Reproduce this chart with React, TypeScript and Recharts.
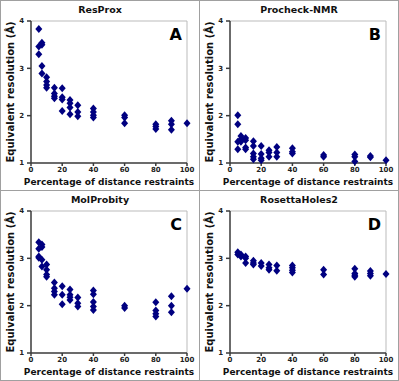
import React from 'react';
import { ScatterChart, Scatter, XAxis, YAxis, ReferenceLine, Customized } from 'recharts';

// [percentage of distance restraints, equivalent resolution]
const resproxPoints: [number, number][] = [
  [5, 3.83], [5, 3.46], [5, 3.3],
  [7, 3.54], [7, 3.5], [7, 3.05], [7, 2.89],
  [10, 2.81], [10, 2.72], [10, 2.65], [10, 2.59],
  [15, 2.59], [15, 2.47], [15, 2.41], [15, 2.37],
  [20, 2.58], [20, 2.39], [20, 2.34], [20, 2.1],
  [25, 2.33], [25, 2.26], [25, 2.17], [25, 2.03],
  [30, 2.22], [30, 2.08], [30, 1.99],
  [40, 2.15], [40, 2.08], [40, 2.01], [40, 1.96],
  [60, 2.01], [60, 1.96], [60, 1.84],
  [80, 1.82], [80, 1.77], [80, 1.72],
  [90, 1.89], [90, 1.82], [90, 1.7],
  [100, 1.84],
];

const procheckPoints: [number, number][] = [
  [5, 2.01], [5, 1.82], [5, 1.45], [5, 1.29],
  [7, 1.57], [7, 1.5], [7, 1.45],
  [10, 1.53], [10, 1.48], [10, 1.33], [10, 1.29],
  [15, 1.46], [15, 1.36], [15, 1.2], [15, 1.13], [15, 1.08],
  [20, 1.36], [20, 1.19], [20, 1.1], [20, 1.06],
  [25, 1.27], [25, 1.22], [25, 1.13],
  [30, 1.34], [30, 1.22], [30, 1.13],
  [40, 1.31], [40, 1.24], [40, 1.2],
  [60, 1.17], [60, 1.13],
  [80, 1.18], [80, 1.13], [80, 1.03],
  [90, 1.15], [90, 1.12],
  [100, 1.06],
];

const molprobityPoints: [number, number][] = [
  [5, 3.34], [5, 3.2], [5, 3.04], [5, 3.01],
  [7, 3.29], [7, 3.24], [7, 2.97], [7, 2.83],
  [10, 2.87], [10, 2.76], [10, 2.66], [10, 2.61],
  [15, 2.49], [15, 2.37], [15, 2.3], [15, 2.23],
  [20, 2.41], [20, 2.23], [20, 2.03],
  [25, 2.34], [25, 2.23], [25, 2.18], [25, 2.12],
  [30, 2.17], [30, 2.05], [30, 1.98],
  [40, 2.32], [40, 2.24], [40, 2.08], [40, 1.98], [40, 1.91],
  [60, 2.0], [60, 1.95],
  [80, 2.07], [80, 1.9], [80, 1.83], [80, 1.77],
  [90, 2.2], [90, 2.0], [90, 1.86],
  [100, 2.36],
];

const rosettaPoints: [number, number][] = [
  [5, 3.13], [5, 3.08],
  [7, 3.08], [7, 3.04],
  [10, 3.04], [10, 3.0], [10, 2.9],
  [15, 2.95], [15, 2.9], [15, 2.87],
  [20, 2.9], [20, 2.84],
  [25, 2.87], [25, 2.8], [25, 2.76],
  [30, 2.85], [30, 2.74],
  [40, 2.85], [40, 2.8], [40, 2.75], [40, 2.7],
  [60, 2.76], [60, 2.66],
  [80, 2.78], [80, 2.68], [80, 2.64], [80, 2.61],
  [90, 2.73], [90, 2.68], [90, 2.63],
  [100, 2.67],
];

const X_TICKS = [0, 20, 40, 60, 80, 100];
const Y_TICKS = [1, 2, 3, 4];

const PANELS = [
  { title: 'ResProx', letter: 'A', points: resproxPoints, left: 0, top: 0 },
  { title: 'Procheck-NMR', letter: 'B', points: procheckPoints, left: 199, top: 0 },
  { title: 'MolProbity', letter: 'C', points: molprobityPoints, left: 0, top: 190 },
  { title: 'RosettaHoles2', letter: 'D', points: rosettaPoints, left: 199, top: 190 },
];

const FONT = '"DejaVu Sans", sans-serif';
const NAVY = '#000080';
const AXIS = '#3a3a3a';

const Diamond = (props: any) => {
  const { cx, cy } = props;
  return (
    <polygon
      points={`${cx},${cy - 4} ${cx + 3.5},${cy} ${cx},${cy + 4} ${cx - 3.5},${cy}`}
      fill={NAVY}
    />
  );
};

function Panel({ title, letter, points }: { title: string; letter: string; points: [number, number][] }) {
  const data = points.map(([x, y]) => ({ x, y }));
  const tickStyle = { fontSize: 7, fontWeight: 'bold', fill: '#222', fontFamily: FONT };

  return (
    <ScatterChart width={199} height={190} margin={{ top: 21, right: 12, bottom: 0, left: 0 }}>
      <XAxis
        type="number"
        dataKey="x"
        domain={[0, 100]}
        ticks={X_TICKS}
        height={27}
        tickSize={3}
        tickMargin={1}
        stroke={AXIS}
        strokeWidth={1.5}
        tick={tickStyle}
        label={{
          value: 'Percentage of distance restraints',
          position: 'insideBottom',
          offset: 5,
          style: { fontSize: 9, fontWeight: 'bold', fill: '#111', fontFamily: FONT },
        }}
      />
      <YAxis
        type="number"
        dataKey="y"
        domain={[1, 4]}
        ticks={Y_TICKS}
        width={31}
        tickSize={4}
        tickMargin={3}
        stroke={AXIS}
        strokeWidth={1.5}
        tick={tickStyle}
        label={{
          value: 'Equivalent resolution (Å)',
          angle: -90,
          position: 'insideLeft',
          offset: 10,
          style: { textAnchor: 'middle', fontSize: 10, fontWeight: 'bold', fill: '#111', fontFamily: FONT },
        }}
      />
      <ReferenceLine y={4} stroke="#bbbbbb" strokeWidth={1} />
      <ReferenceLine x={100} stroke="#bbbbbb" strokeWidth={1} />
      <Scatter data={data} shape={Diamond} isAnimationActive={false} />
      <Customized
        component={() => (
          <g fontFamily={FONT} fontWeight="bold">
            <text x={100} y={12.5} textAnchor="middle" fontSize={9.5} fill="#111">
              {title}
            </text>
            <text x={182} y={39.5} textAnchor="end" fontSize={16} fill="#000">
              {letter}
            </text>
          </g>
        )}
      />
    </ScatterChart>
  );
}

export default function App() {
  return (
    <div
      style={{
        position: 'absolute',
        left: 0,
        top: 0,
        width: 399,
        height: 381,
        background: '#fff',
      }}
    >
      {PANELS.map(p => (
        <div key={p.letter} style={{ position: 'absolute', left: p.left, top: p.top, width: 199, height: 190 }}>
          <Panel title={p.title} letter={p.letter} points={p.points} />
        </div>
      ))}
      {/* panel frames */}
      <div
        style={{
          position: 'absolute',
          left: 0,
          top: 0,
          width: 399,
          height: 381,
          boxSizing: 'border-box',
          border: '1px solid #a0a0a0',
          pointerEvents: 'none',
        }}
      />
      <div style={{ position: 'absolute', left: 199, top: 0, width: 1, height: 381, background: '#a0a0a0' }} />
      <div style={{ position: 'absolute', left: 0, top: 190, width: 399, height: 1, background: '#a0a0a0' }} />
    </div>
  );
}
